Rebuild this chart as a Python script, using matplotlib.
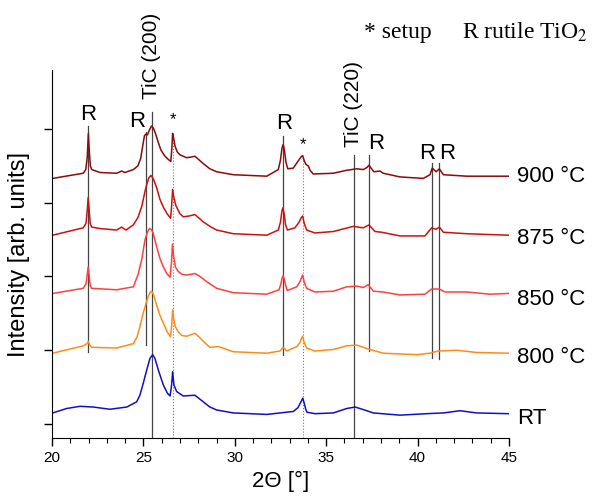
import matplotlib
matplotlib.use("Agg")
import matplotlib.pyplot as plt
from matplotlib.ticker import MultipleLocator

plt.rcParams['font.family'] = ['Liberation Sans', 'DejaVu Sans']
plt.rcParams['mathtext.fontset'] = 'stix'

# XRD patterns (2theta in deg, intensity in arb. units, stacked)
x_900 = [20.04, 21.71, 21.85, 21.93, 21.99, 22.04, 22.10, 22.17, 22.63, 23.54, 23.81, 23.99,
         24.45, 24.70, 24.85, 24.99, 25.06, 25.14, 25.22, 25.32, 25.44, 25.55, 25.66, 25.80,
         25.95, 26.15, 26.35, 26.50, 26.56, 26.60, 26.65, 26.73, 26.85, 27.00, 27.37, 27.60,
         27.82, 28.05, 28.28, 28.64, 29.01, 29.92, 31.75, 32.38, 32.50, 32.58, 32.65, 32.72,
         32.80, 32.90, 33.20, 33.45, 33.62, 33.71, 33.80, 33.89, 34.02, 34.12, 34.29, 35.39,
         36.12, 36.67, 37.03, 37.24, 37.34, 37.45, 37.61, 37.94, 38.12, 39.04, 40.31, 40.68,
         40.80, 41.01, 41.19, 41.41, 42.69, 43.96, 44.96]
y_900 = [3.33, 3.40, 3.45, 3.62, 3.94, 3.70, 3.50, 3.45, 3.41, 3.40, 3.43, 3.41,
         3.45, 3.50, 3.60, 3.81, 3.91, 3.93, 3.92, 3.98, 4.04, 4.01, 3.94, 3.83,
         3.72, 3.64, 3.59, 3.56, 3.75, 3.94, 3.88, 3.77, 3.69, 3.65, 3.61, 3.62,
         3.63, 3.58, 3.53, 3.46, 3.42, 3.38, 3.36, 3.45, 3.58, 3.74, 3.79, 3.70,
         3.55, 3.46, 3.47, 3.56, 3.62, 3.64, 3.57, 3.52, 3.50, 3.44, 3.39, 3.40,
         3.44, 3.46, 3.45, 3.48, 3.51, 3.47, 3.42, 3.43, 3.40, 3.35, 3.33, 3.38,
         3.47, 3.42, 3.46, 3.38, 3.36, 3.36, 3.36]

x_875 = [20.04, 21.71, 21.86, 21.93, 21.98, 22.03, 22.09, 22.17, 22.63, 23.54, 23.81, 24.05,
         24.45, 24.70, 24.91, 25.13, 25.30, 25.42, 25.55, 25.73, 25.90, 26.09, 26.30, 26.49,
         26.55, 26.60, 26.66, 26.78, 27.00, 27.18, 27.50, 27.82, 28.05, 28.28, 28.64, 29.01,
         29.92, 31.75, 32.38, 32.50, 32.58, 32.63, 32.70, 32.78, 32.88, 33.29, 33.50, 33.64,
         33.71, 33.80, 33.93, 34.39, 35.39, 36.48, 37.03, 37.34, 37.67, 38.04, 39.04, 40.40,
         40.77, 41.01, 41.19, 41.41, 42.69, 44.96]
y_875 = [2.56, 2.66, 2.72, 2.90, 3.07, 2.92, 2.72, 2.67, 2.65, 2.63, 2.67, 2.63,
         2.70, 2.80, 2.95, 3.20, 3.34, 3.37, 3.32, 3.20, 3.05, 2.94, 2.85, 2.79,
         2.98, 3.18, 3.08, 2.96, 2.85, 2.81, 2.82, 2.84, 2.79, 2.74, 2.68, 2.63,
         2.58, 2.56, 2.63, 2.74, 2.89, 2.93, 2.85, 2.70, 2.63, 2.66, 2.73, 2.80,
         2.82, 2.72, 2.63, 2.59, 2.61, 2.68, 2.66, 2.70, 2.61, 2.60, 2.55, 2.55,
         2.66, 2.64, 2.67, 2.60, 2.58, 2.56]

x_850 = [20.04, 21.71, 21.86, 21.93, 21.98, 22.03, 22.09, 22.16, 23.54, 24.45, 24.70, 24.91,
         25.09, 25.22, 25.33, 25.43, 25.53, 25.74, 25.90, 26.07, 26.28, 26.46, 26.54, 26.59,
         26.65, 26.75, 26.90, 27.10, 27.37, 27.60, 27.82, 28.10, 28.46, 29.01, 29.92, 31.75,
         32.42, 32.52, 32.60, 32.64, 32.70, 32.78, 32.87, 33.39, 33.58, 33.71, 33.80, 33.93,
         34.39, 35.39, 36.12, 36.67, 37.03, 37.30, 37.58, 38.12, 39.04, 40.40, 40.77, 41.19,
         41.50, 42.69, 43.96, 44.96]
y_850 = [1.77, 1.84, 1.90, 2.03, 2.13, 2.02, 1.88, 1.84, 1.82, 1.86, 2.02, 2.23,
         2.50, 2.60, 2.65, 2.64, 2.59, 2.39, 2.25, 2.14, 2.04, 1.99, 2.20, 2.44,
         2.28, 2.13, 2.07, 2.03, 2.02, 2.03, 2.04, 2.00, 1.93, 1.84, 1.78, 1.76,
         1.82, 1.90, 1.99, 2.01, 1.97, 1.88, 1.81, 1.86, 1.94, 2.02, 1.92, 1.84,
         1.79, 1.80, 1.86, 1.87, 1.85, 1.89, 1.80, 1.79, 1.75, 1.76, 1.83, 1.83,
         1.79, 1.79, 1.76, 1.77]

x_800 = [20.04, 21.71, 21.92, 21.99, 22.06, 22.17, 23.54, 24.45, 24.65, 24.81, 24.95, 25.09,
         25.25, 25.38, 25.45, 25.56, 25.69, 25.88, 26.09, 26.30, 26.49, 26.55, 26.60, 26.66,
         26.75, 26.90, 27.10, 27.37, 27.60, 27.82, 28.05, 28.28, 28.64, 29.10, 29.92, 31.75,
         32.47, 32.65, 32.84, 33.39, 33.55, 33.65, 33.71, 33.80, 33.93, 34.39, 35.39, 36.12,
         36.67, 37.03, 37.40, 38.12, 39.04, 39.95, 40.68, 41.13, 42.14, 43.23, 44.96]
y_800 = [0.96, 1.06, 1.09, 1.12, 1.07, 1.04, 1.03, 1.09, 1.18, 1.32, 1.47, 1.59,
         1.72, 1.79, 1.80, 1.75, 1.64, 1.49, 1.37, 1.25, 1.18, 1.35, 1.55, 1.42,
         1.32, 1.25, 1.20, 1.19, 1.21, 1.23, 1.18, 1.12, 1.04, 1.05, 0.98, 0.96,
         0.99, 1.04, 0.99, 1.05, 1.10, 1.16, 1.19, 1.10, 1.03, 0.99, 1.01, 1.06,
         1.07, 1.04, 1.01, 0.96, 0.95, 0.94, 0.96, 0.99, 1.00, 0.97, 0.96]

x_rt = [20.04, 20.80, 21.53, 22.26, 23.17, 24.09, 24.63, 24.81, 24.99, 25.18, 25.36, 25.51,
        25.63, 25.82, 26.09, 26.31, 26.46, 26.54, 26.60, 26.67, 26.82, 27.18, 27.82, 28.28,
        28.64, 29.01, 29.92, 31.75, 33.20, 33.45, 33.60, 33.72, 33.80, 33.88, 33.95, 34.39,
        35.39, 36.12, 36.58, 36.85, 37.58, 39.04, 40.50, 41.41, 42.32, 43.23, 44.96]
y_rt = [0.15, 0.21, 0.24, 0.23, 0.20, 0.23, 0.30, 0.39, 0.55, 0.73, 0.89, 0.94,
        0.89, 0.73, 0.53, 0.42, 0.38, 0.52, 0.71, 0.53, 0.44, 0.38, 0.39, 0.30,
        0.23, 0.19, 0.15, 0.13, 0.17, 0.22, 0.29, 0.35, 0.28, 0.20, 0.16, 0.14,
        0.15, 0.21, 0.23, 0.21, 0.15, 0.12, 0.14, 0.15, 0.18, 0.15, 0.14]

labels = ['900 °C', '875 °C', '850 °C', '800 °C', 'RT']
colors = ['#8b0a0a', '#cc1111', '#ff4040', '#ff8c1a', '#1010cc']
label_y = [3.36, 2.52, 1.69, 0.90, 0.08]

# reference lines: position, bottom, top
rutile_x = [21.99, 25.12, 32.65, 37.34, 40.80, 41.19]
rutile_bot = [0.98, 1.07, 0.94, 0.99, 0.90, 0.88]
rutile_top = [4.04, 3.96, 3.90, 3.65, 3.54, 3.54]
rutile_lab_x = [21.99, 24.65, 32.69, 37.72, 40.53, 41.62]
rutile_lab_y = [4.19, 4.10, 4.08, 3.81, 3.67, 3.67]

tic_x = [25.45, 36.50]
tic_top = [4.23, 3.65]
tic_lab = ['TiC (200)', 'TiC (220)']
tic_lab_y = [4.40, 3.76]

setup_x = [26.60, 33.73]
setup_top = [3.85, 3.62]
setup_lab_y = [4.02, 3.69]

fig = plt.figure(figsize=(5.92, 4.96), dpi=100)
ax = fig.add_axes([0.0878, 0.1169, 0.772, 0.742])

ymin, ymax = -0.19, 4.80

for xv, b, t in zip(rutile_x, rutile_bot, rutile_top):
    ax.plot([xv, xv], [b, t], color='#444444', lw=0.9)
for lx, ly in zip(rutile_lab_x, rutile_lab_y):
    ax.text(lx, ly, 'R', fontsize=16, ha='center', va='center')
for xv, t, lab, ly in zip(tic_x, tic_top, tic_lab, tic_lab_y):
    ax.plot([xv, xv], [ymin, t], color='#444444', lw=0.9)
    ax.text(xv, ly, lab, fontsize=15, rotation=90, ha='center', va='bottom', clip_on=False)
for xv, t, ly in zip(setup_x, setup_top, setup_lab_y):
    ax.plot([xv, xv], [ymin, t], color='#777777', lw=0.8, ls=':')
    ax.text(xv, ly, '*', fontsize=12, ha='center', va='bottom')

series = [(x_900, y_900), (x_875, y_875), (x_850, y_850), (x_800, y_800), (x_rt, y_rt)]
for (xs, ys), c, lab, ly in zip(series, colors, labels, label_y):
    ax.plot(xs, ys, color=c, lw=1.1)
    ax.text(45.44, ly, lab, fontsize=16, ha='left', va='center', clip_on=False)

ax.set_xlim(20, 45)
ax.set_ylim(ymin, ymax)
ax.spines['top'].set_visible(False)
ax.spines['right'].set_visible(False)
ax.xaxis.set_major_locator(MultipleLocator(5))
ax.xaxis.set_minor_locator(MultipleLocator(1))
ax.yaxis.set_major_locator(MultipleLocator(1))
ax.set_yticklabels([])
ax.tick_params(axis='both', which='major', direction='out', length=6, width=1, labelsize=11)
ax.tick_params(axis='x', which='minor', direction='out', length=3.5, width=0.8)
ax.set_xlabel('2Θ [°]', fontsize=16, labelpad=4)
ax.set_ylabel('Intensity [arb. units]', fontsize=17, labelpad=6)

fig.text(0.615, 0.935, '* setup', fontsize=17, family='Liberation Serif', ha='left', va='center')
fig.text(0.78, 0.935, r'R rutile TiO$_2$', fontsize=17, family='Liberation Serif', ha='left', va='center')

plt.savefig('out.png', dpi=100)
